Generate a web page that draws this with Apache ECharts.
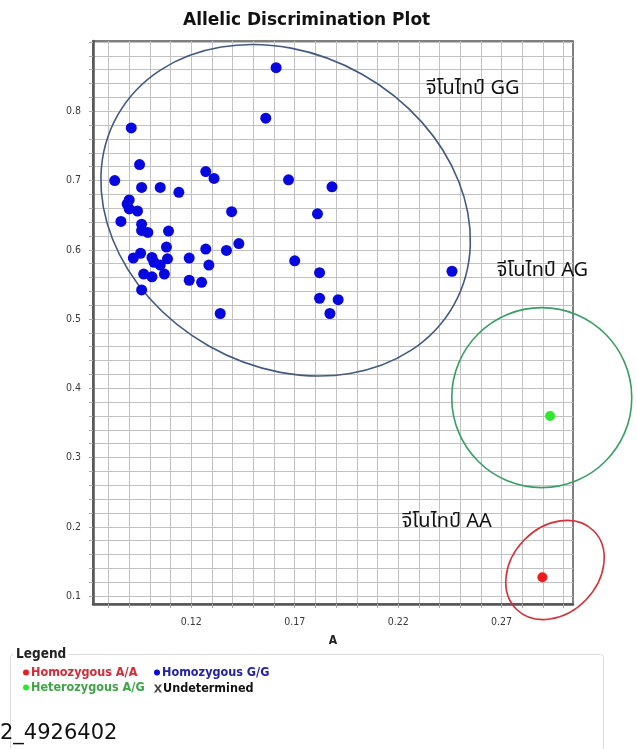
<!DOCTYPE html>
<html>
<head>
<meta charset="utf-8">
<script src="https://cdn.jsdelivr.net/npm/echarts@6/dist/echarts.min.js"></script>
<style>
  html, body { margin: 0; padding: 0; background: #ffffff; }
  #chart { width: 637px; height: 749px; }
</style>
</head>
<body>
<div id="chart"></div>
<script>
// Normalised allele signals: [A, G] for every well, grouped by call
const homozygousAA = [[0.2897, 0.127]];
const heterozygousAG = [[0.2934, 0.360]];
const homozygousGG = [
  [0.161, 0.863], [0.156, 0.790], [0.091, 0.776], [0.095, 0.723], [0.083, 0.700],
  [0.096, 0.690], [0.105, 0.690], [0.114, 0.683], [0.127, 0.713], [0.131, 0.703],
  [0.167, 0.701], [0.188, 0.691], [0.090, 0.672], [0.089, 0.666], [0.090, 0.659],
  [0.094, 0.656], [0.1395, 0.655], [0.181, 0.652], [0.086, 0.641], [0.096, 0.637],
  [0.096, 0.628], [0.099, 0.625], [0.109, 0.627], [0.143, 0.609], [0.108, 0.604],
  [0.127, 0.601], [0.137, 0.599], [0.0955, 0.595], [0.092, 0.588], [0.101, 0.589],
  [0.102, 0.582], [0.1085, 0.587], [0.105, 0.578], [0.119, 0.588], [0.1285, 0.578],
  [0.097, 0.565], [0.101, 0.561], [0.107, 0.565], [0.119, 0.556], [0.125, 0.553],
  [0.096, 0.542], [0.134, 0.508], [0.170, 0.584], [0.182, 0.567], [0.182, 0.530],
  [0.191, 0.528], [0.187, 0.508], [0.246, 0.569]
];
const undetermined = [];

// Axis ticks: labelled values and the finer grid steps
const xLabelValues = [0.12, 0.17, 0.22, 0.27];
const xTickValues = [0.08, 0.09, 0.10, 0.11, 0.12, 0.13, 0.14, 0.15, 0.16, 0.17, 0.18, 0.19,
                     0.20, 0.21, 0.22, 0.23, 0.24, 0.25, 0.26, 0.27, 0.28, 0.29, 0.30];
const yLabelValues = [0.1, 0.2, 0.3, 0.4, 0.5, 0.6, 0.7, 0.8];
const yTickValues = [0.10, 0.12, 0.14, 0.16, 0.18, 0.20, 0.22, 0.24, 0.26, 0.28, 0.30,
                     0.32, 0.34, 0.36, 0.38, 0.40, 0.42, 0.44, 0.46, 0.48, 0.50, 0.52,
                     0.54, 0.56, 0.58, 0.60, 0.62, 0.64, 0.66, 0.68, 0.70, 0.72, 0.74,
                     0.76, 0.78, 0.80, 0.82, 0.84, 0.86, 0.88, 0.90];

// Genotype cluster rings (centre in data units) and their captions
const clusterCentres = [[0.1656, 0.6571], [0.2894, 0.3865], [0.2958, 0.1376]];
const clusterCaptions = ['จีโนไทป์ GG', 'จีโนไทป์ AG', 'จีโนไทป์ AA'];
const captionAnchors = [[0.2334, 0.8313], [0.2676, 0.5681], [0.2217, 0.2058]];

// Ring drawing style: semi-axes in pixels, rotation in radians
const ringStyle = [
  { rx: 193, ry: 156, rot: -0.515, color: '#435a80' },
  { rx: 90, ry: 90, rot: 0, color: '#3a9d66' },
  { rx: 55, ry: 43, rot: 0.80, color: '#d2313a' }
];

const chart = echarts.init(document.getElementById('chart'), null, { renderer: 'canvas' });

const axisFont = 'DejaVu Sans Condensed, Liberation Sans, Arial, sans-serif';
const thaiFont = 'Noto Sans Thai, Tahoma, Leelawadee UI, Noto Sans, sans-serif';
const legendFont = 'DejaVu Sans Condensed, Liberation Sans Narrow, Liberation Sans, sans-serif';

// letter-like cross used for undetermined wells
const xIcon = 'path://M0,0L2.8,0L5,3.4L7.2,0L10,0L6.4,5L10,10L7.2,10L5,6.6L2.8,10L0,10L3.6,5Z';

const legendText = { fontFamily: legendFont, fontWeight: 'bold', fontSize: 12.5, padding: [0, 0, 0, -3] };

chart.setOption({
  animation: false,
  backgroundColor: '#ffffff',
  title: {
    text: 'Allelic Discrimination Plot',
    left: 178,
    top: 7,
    textStyle: { fontFamily: 'DejaVu Sans, sans-serif', fontWeight: 'bold', fontSize: 17, color: '#111' }
  },
  grid: {
    left: 93, top: 41, width: 480, height: 563,
    show: true, borderColor: '#555', borderWidth: 1.5, backgroundColor: 'transparent'
  },
  xAxis: {
    type: 'value',
    min: 0.0725, max: 0.3045,
    name: 'A', nameLocation: 'middle', nameGap: 31,
    nameTextStyle: { fontFamily: axisFont, fontWeight: 'bold', fontSize: 12, color: '#222' },
    axisLine: { show: true, onZero: false, lineStyle: { color: '#555', width: 2.5 } },
    axisTick: { show: true, length: 4, customValues: xTickValues, lineStyle: { color: '#aaa' } },
    axisLabel: { customValues: xLabelValues, fontFamily: axisFont, fontSize: 10.5, color: '#3a3a3a', margin: 13 },
    splitLine: { show: true, lineStyle: { color: '#c2c2c2', width: 1 } }
  },
  yAxis: {
    type: 'value',
    min: 0.0885, max: 0.9015,
    axisLine: { show: true, onZero: false, lineStyle: { color: '#555', width: 2.5 } },
    axisTick: { show: true, length: 4, customValues: yTickValues, lineStyle: { color: '#aaa' } },
    axisLabel: { customValues: yLabelValues, fontFamily: axisFont, fontSize: 10.5, color: '#3a3a3a', margin: 12 },
    splitLine: { show: true, lineStyle: { color: '#c2c2c2', width: 1 } }
  },
  legend: [
    {
      left: 18, top: 661, orient: 'vertical', itemGap: 2,
      itemWidth: 6, itemHeight: 6, selectedMode: false,
      textStyle: legendText,
      data: [
        { name: 'Homozygous A/A', icon: 'circle', textStyle: { color: '#cf2c3a' } },
        { name: 'Heterozygous A/G', icon: 'circle', textStyle: { color: '#3da543' } }
      ]
    },
    {
      left: 149, top: 661, orient: 'vertical',
      itemWidth: 6, itemHeight: 6, selectedMode: false,
      textStyle: legendText,
      data: [
        { name: 'Homozygous G/G', icon: 'circle', textStyle: { color: '#2323a6' } }
      ]
    },
    {
      left: 149, top: 677, orient: 'vertical',
      itemWidth: 8, itemHeight: 9, selectedMode: false,
      textStyle: { fontFamily: legendFont, fontWeight: 'bold', fontSize: 12.5, padding: [0, 0, 0, -4] },
      data: [
        { name: 'Undetermined', icon: xIcon, itemStyle: { color: '#111' }, textStyle: { color: '#111' } }
      ]
    }
  ],
  graphic: [
    {
      type: 'rect', left: 10, top: 654, z: -1,
      shape: { width: 593, height: 97, r: 3 },
      style: { fill: '#fff', stroke: '#dcdcdc', lineWidth: 1 }
    },
    {
      type: 'text', left: 14, top: 647,
      style: { text: 'Legend', fill: '#222', font: 'bold 13.5px ' + legendFont, backgroundColor: '#fff', padding: [0, 2] }
    },
    {
      type: 'text', left: 0, top: 723,
      style: { text: '2_4926402', fill: '#111', font: '21px DejaVu Sans, sans-serif' }
    }
  ],
  series: [
    {
      name: 'rings',
      type: 'custom',
      coordinateSystem: 'cartesian2d',
      clip: false, silent: true, z: 3,
      data: clusterCentres,
      renderItem: function (params, api) {
        const s = ringStyle[params.dataIndex];
        const c = api.coord([api.value(0), api.value(1)]);
        return {
          type: 'ellipse',
          x: c[0], y: c[1], rotation: s.rot,
          shape: { cx: 0, cy: 0, rx: s.rx, ry: s.ry },
          style: { fill: 'none', stroke: s.color, lineWidth: 1.6 }
        };
      }
    },
    {
      name: 'captions',
      type: 'custom',
      coordinateSystem: 'cartesian2d',
      clip: false, silent: true, z: 6,
      data: captionAnchors,
      renderItem: function (params, api) {
        const c = api.coord([api.value(0), api.value(1)]);
        return {
          type: 'text', x: c[0], y: c[1],
          style: {
            text: clusterCaptions[params.dataIndex],
            fill: '#111', font: '20px ' + thaiFont,
            align: 'left', verticalAlign: 'middle'
          }
        };
      }
    },
    {
      name: 'Homozygous A/A', type: 'scatter', data: homozygousAA, z: 5,
      symbol: 'circle', symbolSize: 10, itemStyle: { color: '#ee1c1c', opacity: 1 }
    },
    {
      name: 'Homozygous G/G', type: 'scatter', data: homozygousGG, z: 5,
      symbol: 'circle', symbolSize: 11, itemStyle: { color: '#0707e0', opacity: 1 }
    },
    {
      name: 'Heterozygous A/G', type: 'scatter', data: heterozygousAG, z: 5,
      symbol: 'circle', symbolSize: 10, itemStyle: { color: '#2ee82e', opacity: 1 }
    },
    {
      name: 'Undetermined', type: 'scatter', data: undetermined, z: 5,
      symbol: xIcon, symbolSize: 8, itemStyle: { color: '#111' }
    }
  ]
});
</script>
</body>
</html>
